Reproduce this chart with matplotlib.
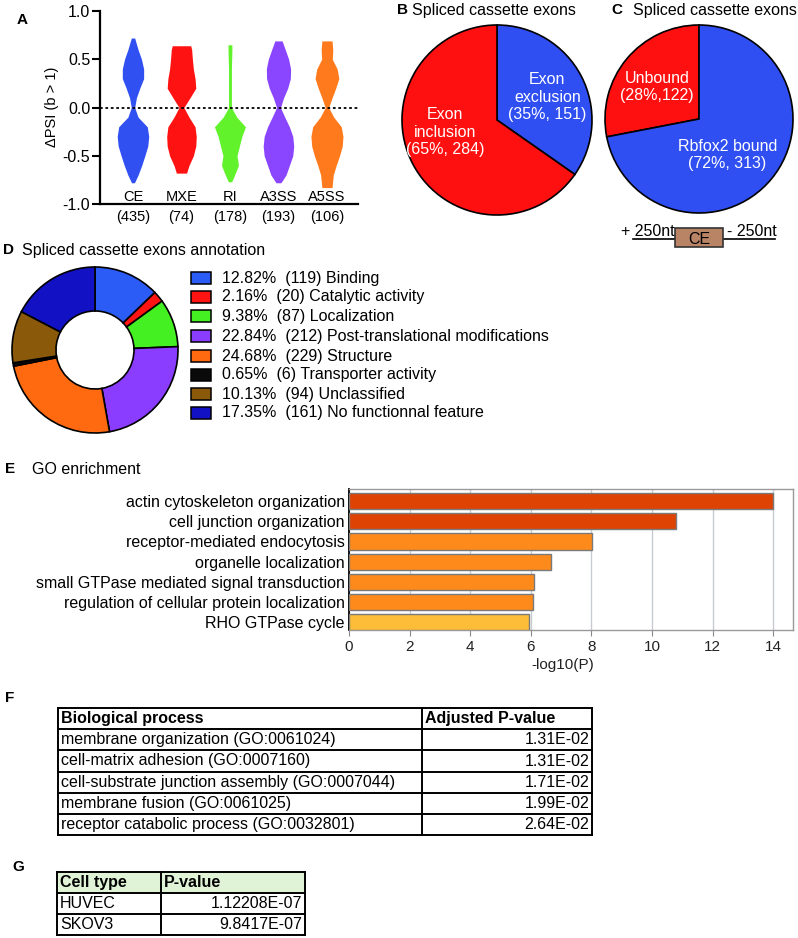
"""Rbfox2 spliced exons - multi panel figure"""

import matplotlib
matplotlib.use("Agg")
import matplotlib.pyplot as plt
from matplotlib.patches import Rectangle

plt.rcParams["font.family"] = ["Liberation Sans", "DejaVu Sans"]
plt.rcParams["axes.unicode_minus"] = False

W, H = 798, 938

# ── panel A: violin outlines (full width, in units of category spacing) ──
VIOLIN_NAMES = ["CE", "MXE", "RI", "A3SS", "A5SS"]
VIOLIN_COUNTS = [435, 74, 178, 193, 106]
CE_LEVELS = [-0.78, -0.7, -0.6, -0.5, -0.4, -0.3, -0.2, -0.1, 0.0, 0.1, 0.2, 0.3, 0.4, 0.5, 0.6, 0.72]
CE_WIDTH = [0.06, 0.21, 0.36, 0.49, 0.61, 0.65, 0.59, 0.21, 0.07, 0.14, 0.28, 0.44, 0.44, 0.35, 0.21, 0.07]
MXE_LEVELS = [-0.68, -0.6, -0.5, -0.4, -0.3, -0.2, -0.1, 0.0, 0.1, 0.2, 0.3, 0.4, 0.5, 0.6, 0.64]
MXE_WIDTH = [0.21, 0.31, 0.49, 0.59, 0.61, 0.56, 0.31, 0.10, 0.35, 0.59, 0.56, 0.49, 0.45, 0.42, 0.38]
RI_LEVELS = [-0.77, -0.7, -0.6, -0.5, -0.4, -0.3, -0.2, -0.1, 0.0, 0.1, 0.2, 0.3, 0.4, 0.5, 0.6, 0.65]
RI_WIDTH = [0.07, 0.19, 0.35, 0.29, 0.39, 0.49, 0.64, 0.28, 0.06, 0.06, 0.06, 0.06, 0.06, 0.07, 0.08, 0.08]
A3SS_LEVELS = [-0.78, -0.7, -0.6, -0.5, -0.4, -0.3, -0.2, -0.1, 0.0, 0.1, 0.2, 0.3, 0.4, 0.5, 0.6, 0.69]
A3SS_WIDTH = [0.10, 0.31, 0.45, 0.59, 0.63, 0.59, 0.45, 0.26, 0.08, 0.21, 0.38, 0.49, 0.50, 0.42, 0.28, 0.15]
A5SS_LEVELS = [-0.83, -0.7, -0.6, -0.5, -0.4, -0.3, -0.2, -0.1, 0.0, 0.1, 0.2, 0.3, 0.4, 0.5, 0.6, 0.69]
A5SS_WIDTH = [0.21, 0.26, 0.38, 0.52, 0.63, 0.66, 0.59, 0.28, 0.07, 0.21, 0.36, 0.49, 0.42, 0.22, 0.24, 0.21]

# ── panels B / C: pies ──
B_COUNTS = [151, 284]
B_LABELS = ["Exon\nexclusion\n(35%, 151)", "Exon\ninclusion\n(65%, 284)"]
C_COUNTS = [122, 313]
C_LABELS = ["Unbound\n(28%,122)", "Rbfox2 bound\n(72%, 313)"]

# ── panel D: annotation donut ──
D_NAMES = ["Binding", "Catalytic activity", "Localization", "Post-translational modifications",
           "Structure", "Transporter activity", "Unclassified", "No functionnal feature"]
D_PCT = [12.82, 2.16, 9.38, 22.84, 24.68, 0.65, 10.13, 17.35]
D_COUNTS = [119, 20, 87, 212, 229, 6, 94, 161]

# ── panel E: GO enrichment ──
GO_TERMS = ["actin cytoskeleton organization", "cell junction organization",
            "receptor-mediated endocytosis", "organelle localization",
            "small GTPase mediated signal transduction",
            "regulation of cellular protein localization", "RHO GTPase cycle"]
GO_LOGP = [14.0, 10.8, 8.02, 6.67, 6.1, 6.08, 5.93]

# ── panels F / G: tables ──
F_HEADER = ["Biological process", "Adjusted P-value"]
F_PROCESS = ["membrane organization (GO:0061024)", "cell-matrix adhesion (GO:0007160)",
             "cell-substrate junction assembly (GO:0007044)", "membrane fusion (GO:0061025)",
             "receptor catabolic process (GO:0032801)"]
F_PADJ = ["1.31E-02", "1.31E-02", "1.71E-02", "1.99E-02", "2.64E-02"]
G_HEADER = ["Cell type", "P-value"]
G_CELL = ["HUVEC", "SKOV3"]
G_PVAL = ["1.12208E-07", "9.8417E-07"]

BLUE = "#2f4ff2"
RED = "#ff1010"
FS = 11.5

fig = plt.figure(figsize=(W / 100, H / 100), dpi=100)


def px_axes(x0, y0, x1, y1):
    return fig.add_axes([x0 / W, 1 - y1 / H, (x1 - x0) / W, (y1 - y0) / H])


def pie_axes(cx, cy, r, pad=3):
    ax = px_axes(cx - r - pad, cy - r - pad, cx + r + pad, cy + r + pad)
    return ax, (r + pad) / r


# overlay in pixel coordinates for titles, panel letters, tables
ov = fig.add_axes([0, 0, 1, 1])
ov.set_xlim(0, W)
ov.set_ylim(H, 0)
ov.axis("off")

# ── A ──
ax = px_axes(100, 11, 358, 204)
levels = [CE_LEVELS, MXE_LEVELS, RI_LEVELS, A3SS_LEVELS, A5SS_LEVELS]
widths = [CE_WIDTH, MXE_WIDTH, RI_WIDTH, A3SS_WIDTH, A5SS_WIDTH]
vcolors = ["#3050f2", "#ff1212", "#62f22c", "#8a45ff", "#ff7a1c"]
for i, (lv, wd) in enumerate(zip(levels, widths)):
    left = [i - w / 2 for w in wd]
    right = [i + w / 2 for w in wd]
    ax.fill_betweenx(lv, left, right, color=vcolors[i], lw=0)
    ax.text(i, -0.925, VIOLIN_NAMES[i], ha="center", va="center", fontsize=10.5)
    ax.text(i, -1.135, f"({VIOLIN_COUNTS[i]})", ha="center", va="center",
            fontsize=10.5, clip_on=False)
ax.axhline(0, color="black", ls=(0, (1.5, 1.5)), lw=1.3)
ax.set_xlim(-0.68, 4.64)
ax.set_ylim(-1, 1)
ax.set_yticks([1.0, 0.5, 0.0, -0.5, -1.0])
ax.set_yticklabels([f"{v:.1f}" for v in [1.0, 0.5, 0.0, -0.5, -1.0]])
ax.set_xticks([])
ax.tick_params(axis="y", length=6, width=1.5, pad=1, labelsize=11.5)
for s in ["top", "right"]:
    ax.spines[s].set_visible(False)
for s in ["left", "bottom"]:
    ax.spines[s].set_linewidth(1.6)
ax.patch.set_alpha(0)
ov.text(52, 107, "ΔPSI (b > 1)", rotation=90, ha="center", va="center", fontsize=10.5)
ov.text(22, 20, "A", ha="center", va="center", fontsize=11, fontweight="bold")

# ── B ──
ax, lim = pie_axes(497, 120, 95)
ax.pie(B_COUNTS, colors=[BLUE, RED], startangle=90, counterclock=False,
       wedgeprops=dict(edgecolor="black", linewidth=1.2))
ax.set_xlim(-lim, lim)
ax.set_ylim(-lim, lim)
ax.text(0.53, 0.24, B_LABELS[0], color="white", ha="center", va="center", fontsize=FS)
ax.text(-0.55, -0.13, B_LABELS[1], color="white", ha="center", va="center", fontsize=FS)
ov.text(397, 10, "B", ha="left", va="center", fontsize=11, fontweight="bold")
ov.text(412, 10, "Spliced cassette exons", ha="left", va="center", fontsize=FS)

# ── C ──
ax, lim = pie_axes(699, 119, 94)
ax.pie(C_COUNTS, colors=[RED, BLUE], startangle=90, counterclock=True,
       wedgeprops=dict(edgecolor="black", linewidth=1.2))
ax.set_xlim(-lim, lim)
ax.set_ylim(-lim, lim)
ax.text(-0.45, 0.34, C_LABELS[0], color="white", ha="center", va="center", fontsize=FS)
ax.text(0.30, -0.38, C_LABELS[1], color="white", ha="center", va="center", fontsize=FS)
ov.text(611, 10, "C", ha="left", va="center", fontsize=11, fontweight="bold")
ov.text(633, 10, "Spliced cassette exons", ha="left", va="center", fontsize=FS)

# exon diagram under C
ov.plot([633, 775], [239, 239], color="black", lw=1.2, zorder=2)
ov.add_patch(Rectangle((675, 228), 48, 19, facecolor="#b98466", edgecolor="#333333",
                       lw=1.2, zorder=3))
ov.text(699, 239, "CE", ha="center", va="center", fontsize=FS, zorder=4)
ov.text(621, 231, "+ 250nt", ha="left", va="center", fontsize=FS)
ov.text(727, 231, "- 250nt", ha="left", va="center", fontsize=FS)

# ── D ──
ax, lim = pie_axes(95, 350, 83)
dcolors = ["#2c5cf6", "#ff1414", "#44ef22", "#8a3cff", "#ff6a10", "#0a0a0a", "#8a5a0a", "#1212c4"]
ax.pie(D_COUNTS, colors=dcolors, startangle=90, counterclock=False,
       wedgeprops=dict(width=0.53, edgecolor="black", linewidth=1.2))
ax.set_xlim(-lim, lim)
ax.set_ylim(-lim, lim)
ov.text(3, 250, "D", ha="left", va="center", fontsize=11, fontweight="bold")
ov.text(22, 250, "Spliced cassette exons annotation", ha="left", va="center", fontsize=FS)
row_y = [278, 297, 316, 336, 356, 375, 394, 413]
for y, c, p, n, name in zip(row_y, dcolors, D_PCT, D_COUNTS, D_NAMES):
    ov.add_patch(Rectangle((191, y - 6), 20, 12, facecolor=c, edgecolor="black", lw=1.1))
    ov.text(222, y, f"{p:.2f}%  ({n}) {name}", ha="left", va="center", fontsize=FS)

# ── E ──
ov.text(5, 469, "E", ha="left", va="center", fontsize=11, fontweight="bold")
ov.text(32, 469, "GO enrichment", ha="left", va="center", fontsize=FS)
ax = px_axes(349, 489, 793, 630)
bar_colors = ["#de4304", "#de4304", "#fd8a1a", "#fd8a1a", "#fd8a1a", "#fd8a1a", "#fdbd39"]
ax.barh(range(len(GO_TERMS)), GO_LOGP, height=0.8, color=bar_colors,
        edgecolor="#7a7a7a", lw=1.0, zorder=3)
ax.set_xlim(0, 14.65)
ax.set_ylim(6.4, -0.61)
ax.set_xticks(range(0, 15, 2))
ax.set_yticks(range(len(GO_TERMS)))
ax.set_yticklabels(GO_TERMS)
ax.xaxis.grid(True, color="#c8ccd2", lw=1.0, zorder=0)
ax.tick_params(axis="y", length=0, pad=3, labelsize=FS)
ax.tick_params(axis="x", length=4, color="#888888", labelsize=11, labelcolor="#222222")
for s in ["top", "right", "bottom"]:
    ax.spines[s].set_color("#999999")
    ax.spines[s].set_linewidth(1.0)
ax.spines["left"].set_color("black")
ax.spines["left"].set_linewidth(1.3)
ov.text(563, 665, "-log10(P)", ha="center", va="center", fontsize=11, color="#222222")


def draw_table(x_cols, y0, row_h, rows, header_bg=None):
    n = len(rows)
    if header_bg:
        ov.add_patch(Rectangle((x_cols[0], y0), x_cols[-1] - x_cols[0], row_h,
                               facecolor=header_bg, lw=0))
    for k in range(n + 1):
        ov.plot([x_cols[0], x_cols[-1]], [y0 + k * row_h] * 2, color="black", lw=1.4)
    for x in x_cols:
        ov.plot([x, x], [y0, y0 + n * row_h], color="black", lw=1.4)
    for k, (a, b) in enumerate(rows):
        yc = y0 + (k + 0.5) * row_h
        bold = "bold" if k == 0 else "normal"
        ov.text(x_cols[0] + 3, yc, a, ha="left", va="center", fontsize=FS, fontweight=bold)
        if k == 0:
            ov.text(x_cols[1] + 3, yc, b, ha="left", va="center", fontsize=FS, fontweight=bold)
        else:
            ov.text(x_cols[2] - 3, yc, b, ha="right", va="center", fontsize=FS)


# ── F ──
ov.text(5, 698, "F", ha="left", va="center", fontsize=11, fontweight="bold")
draw_table([58, 422, 592], 708, 21.2, [F_HEADER] + list(zip(F_PROCESS, F_PADJ)))

# ── G ──
ov.text(12, 867, "G", ha="left", va="center", fontsize=11, fontweight="bold")
draw_table([57, 161, 305], 872, 21.0, [G_HEADER] + list(zip(G_CELL, G_PVAL)),
           header_bg="#e0f3d6")

fig.savefig("out.png", dpi=100)
plt.close(fig)
